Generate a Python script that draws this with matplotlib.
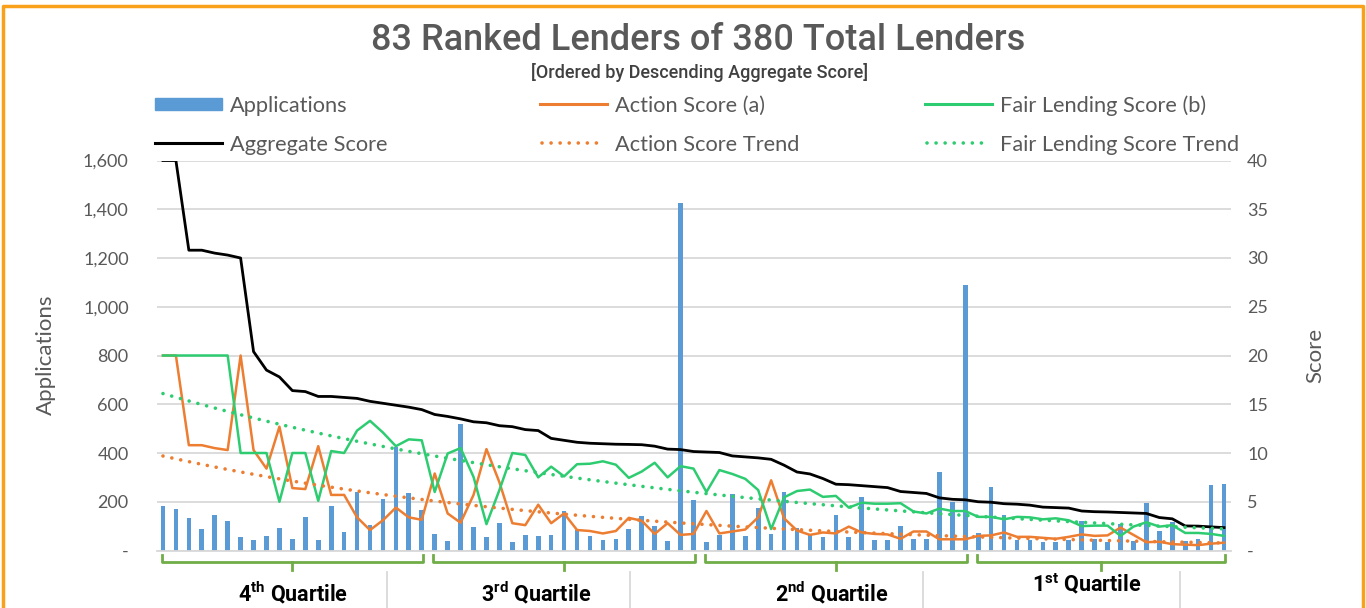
import matplotlib.pyplot as plt
import numpy as np
from matplotlib.lines import Line2D
from matplotlib.patches import Rectangle

W, H = 1366, 608

# values, lenders in ranked order
applications = [
    182, 172, 135, 89, 146, 123, 56, 42, 60, 93, 48, 139, 45, 182, 74, 241, 103, 211, 424, 234, 168,
    66, 40, 521, 96, 55, 111, 35, 62, 59, 63,
    162, 84, 61, 44, 48, 89, 142, 100, 40, 1425,
    207, 36, 63, 231, 59, 175, 66, 240, 91, 63, 54,
    145, 54, 218, 43, 43, 100, 48, 46, 323, 199,
    1088, 73, 262, 145, 43, 43, 36, 36, 43, 121, 47,
    34, 109, 39, 193, 81, 118, 40, 46, 267, 272,
]
action_score = [
    20, 20, 10.8, 10.8, 10.5, 10.3, 20, 10.3, 8.4, 12.7, 6.4, 6.3, 10.7, 5.7, 5.7, 3.4, 2.1, 3.1, 4.4, 3.4, 3.15,
    7.9, 3.8, 2.85, 5.7, 10.4, 7.0, 2.8, 2.6, 4.7, 2.8,
    3.8, 2.1, 2.0, 1.75, 2.0, 3.35, 3.05, 1.7, 2.8, 1.6,
    1.7, 4.05, 1.75, 1.95, 2.15, 3.4, 7.2, 3.3, 2.05, 1.6, 1.85,
    1.75, 2.45, 1.85, 1.7, 1.65, 1.2, 1.95, 1.95, 1.15, 1.15,
    1.15, 1.5, 1.55, 1.85, 1.4, 1.4, 1.3, 1.2, 1.4, 1.65, 1.5,
    1.55, 2.35, 1.6, 0.85, 0.9, 0.65, 0.6, 0.55, 0.7, 0.8,
]
fair_lending_score = [
    20, 20, 20, 20, 20, 20, 10, 10, 10, 5, 10, 10, 5.1, 10.2, 10, 12.3, 13.3, 12.1, 10.7, 11.4, 11.3,
    6.0, 9.95, 10.5, 7.55, 2.7, 6.2, 10.0, 9.8, 7.5, 8.6,
    7.6, 8.85, 8.9, 9.15, 8.8, 7.45, 8.1, 9.0, 7.5, 8.65,
    8.4, 6.0, 8.25, 7.85, 7.35, 6.2, 2.2, 5.45, 6.1, 6.25, 5.5,
    5.6, 4.4, 4.9, 4.8, 4.8, 4.85, 4.0, 3.8, 4.3, 4.05,
    4.05, 3.45, 3.45, 3.2, 3.45, 3.4, 3.2, 3.3, 3.1, 2.5, 2.55,
    2.55, 1.5, 2.45, 2.9, 2.45, 2.6, 1.8, 1.8, 1.7, 1.5,
]
aggregate_score = [
    40, 40, 30.8, 30.8, 30.5, 30.3, 30.0, 20.4, 18.5, 17.8, 16.4, 16.3, 15.8, 15.8, 15.7, 15.6, 15.3, 15.1, 14.9, 14.7, 14.45,
    13.95, 13.75, 13.5, 13.2, 13.1, 12.8, 12.7, 12.4, 12.3, 11.5,
    11.3, 11.1, 11.0, 10.95, 10.9, 10.88, 10.85, 10.7, 10.4, 10.35,
    10.15, 10.1, 10.05, 9.7, 9.6, 9.5, 9.35, 8.75, 8.05, 7.85, 7.38,
    6.8, 6.75, 6.65, 6.55, 6.45, 6.05, 5.95, 5.85, 5.4, 5.25,
    5.2, 5.0, 4.95, 4.8, 4.75, 4.65, 4.45, 4.4, 4.35, 4.05, 3.98,
    3.95, 3.9, 3.85, 3.8, 3.38, 3.25, 2.52, 2.5, 2.42, 2.35,
]
app_ticks = [0, 200, 400, 600, 800, 1000, 1200, 1400, 1600]
score_ticks = [0, 5, 10, 15, 20, 25, 30, 35, 40]
quartile_names = ["4", "3", "2", "1"]
quartile_suffix = ["th", "rd", "nd", "st"]
quartile_spans = [(0, 20), (21, 41), (42, 62), (63, 82)]

BLUE = "#5B9BD5"
ORANGE = "#ED7D31"
GREEN = "#2ECC71"
BRACKET = "#70AD47"
GRID = "#D9D9D9"
TEXT = "#595959"
FONT = ["Lato", "DejaVu Sans"]

plt.rcParams["font.family"] = FONT
plt.rcParams["mathtext.fontset"] = "custom"
plt.rcParams["mathtext.bf"] = "Roboto:bold"


def fx(x):
    return x / W


def fy(y):
    return 1 - y / H


def exp_trend(values):
    # Excel-style exponential trendline
    x = np.arange(1, len(values) + 1)
    slope, intercept = np.polyfit(x, np.log(values), 1)
    return np.exp(intercept + slope * x)


fig = plt.figure(figsize=(W / 100, H / 100), dpi=100)
ax = fig.add_axes([fx(156.5), fy(550.5), 1074 / W, 390 / H])
idx = np.arange(len(applications))

ax.bar(idx, applications, width=0.36, color=BLUE, zorder=2)
ax.set_xlim(-0.5, len(applications) - 0.5)
ax.set_ylim(0, 1600)
ax.set_yticks(app_ticks)
ax.set_yticklabels(["-" if v == 0 else f"{v:,}" for v in app_ticks])
ax.tick_params(axis="y", length=0, pad=20, labelsize=13, labelcolor=TEXT)
ax.set_xticks([])
ax.grid(axis="y", color=GRID, lw=1.3)
ax.set_axisbelow(True)
for side in ["top", "left", "right"]:
    ax.spines[side].set_visible(False)
ax.spines["bottom"].set_color(GRID)
ax.spines["bottom"].set_linewidth(1.3)

ax2 = ax.twinx()
ax2.set_ylim(0, 40)
ax2.set_yticks(score_ticks)
ax2.set_yticklabels(["-" if v == 0 else str(v) for v in score_ticks])
ax2.tick_params(axis="y", length=0, pad=12, labelsize=13, labelcolor=TEXT)
for side in ax2.spines:
    ax2.spines[side].set_visible(False)

ax2.plot(idx, action_score, color=ORANGE, lw=1.8)
ax2.plot(idx, fair_lending_score, color=GREEN, lw=1.8)
ax2.plot(idx, aggregate_score, color="black", lw=2)
dots = dict(lw=2.6, linestyle=(0, (0.01, 2.5)), dash_capstyle="round")
ax2.plot(idx, exp_trend(action_score), color=ORANGE, **dots)
ax2.plot(idx, exp_trend(fair_lending_score), color=GREEN, **dots)

# titles
fig.text(fx(698), fy(40), "83 Ranked Lenders of 380 Total Lenders", ha="center", va="center",
         fontsize=26, color=TEXT, fontweight="medium", family=["Roboto", "DejaVu Sans"])
fig.text(fx(700), fy(73), "[Ordered by Descending Aggregate Score]", ha="center", va="center",
         fontsize=13, color="#404040", fontweight="medium", family=["Roboto", "DejaVu Sans"])

# legend, two rows of three
legend_items = [
    ("Applications", "bar", BLUE, 155, 104),
    ("Action Score (a)", "-", ORANGE, 540, 104),
    ("Fair Lending Score (b)", "-", GREEN, 925, 104),
    ("Aggregate Score", "-", "black", 155, 143),
    ("Action Score Trend", ":", ORANGE, 540, 143),
    ("Fair Lending Score Trend", ":", GREEN, 925, 143),
]
for label, kind, color, x0, y0 in legend_items:
    if kind == "bar":
        fig.add_artist(Rectangle((fx(x0), fy(y0 + 6)), 67 / W, 12 / H, color=color,
                                 transform=fig.transFigure))
    elif kind == "-":
        fig.add_artist(Line2D([fx(x0), fx(x0 + 67)], [fy(y0), fy(y0)], color=color, lw=2.2))
    else:
        fig.add_artist(Line2D([fx(x0 + 2), fx(x0 + 65)], [fy(y0), fy(y0)], color=color, **dots))
    fig.text(fx(x0 + 75), fy(y0 + 2), label, ha="left", va="center", fontsize=15.7, color=TEXT)

fig.text(fx(46), fy(355), "Applications", rotation=90, ha="center", va="center", fontsize=16, color=TEXT)
fig.text(fx(1315), fy(355), "Score", rotation=90, ha="center", va="center", fontsize=16, color=TEXT)

# quartile brackets under the category axis
ytrans = ax.get_xaxis_transform()
y_line = (550.5 - 562) / 390
y_hook = (550.5 - 555) / 390
y_tick = (550.5 - 570) / 390
for start, end in quartile_spans:
    a, b = start - 0.1, end + 0.1
    mid = (a + b) / 2
    ax.add_line(Line2D([a, a, b, b], [y_hook, y_line, y_line, y_hook], color=BRACKET, lw=2,
                       transform=ytrans, clip_on=False, solid_joinstyle="round"))
    ax.add_line(Line2D([mid, mid], [y_line, y_tick], color=BRACKET, lw=2,
                       transform=ytrans, clip_on=False))

for xs in [387, 630, 923, 1180]:
    fig.add_artist(Line2D([fx(xs), fx(xs)], [fy(572), fy(610)], color=GRID, lw=1.3))

label_pos = [(293, 593), (536, 593), (832, 593), (1087, 585)]
for name, suf, (lx, ly) in zip(quartile_names, quartile_suffix, label_pos):
    fig.text(fx(lx), fy(ly), name + r"$^{\mathbf{" + suf + "}}$ Quartile", ha="center", va="center",
             fontsize=15.5, fontweight="bold", color="black", family=["Roboto", "DejaVu Sans"])

# orange frame around the figure
fig.add_artist(Line2D([fx(2.5), fx(2.5), fx(1362.5), fx(1362.5)], [fy(615), fy(5.5), fy(5.5), fy(615)],
                      color="#F9A11B", lw=2.5))

fig.savefig("out.png", dpi=100)
